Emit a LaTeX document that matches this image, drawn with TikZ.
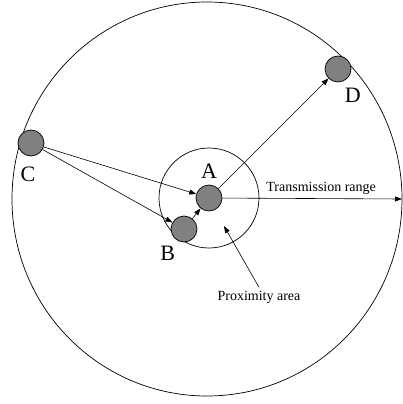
\documentclass[tikz,border=0pt]{standalone}
\usepackage{fontspec}
\setmainfont{Liberation Serif}
\usetikzlibrary{arrows.meta, positioning}

\begin{document}
\begin{tikzpicture}[
        x=1pt, y=-1pt,
        host/.style={draw, circle, fill=gray, minimum size=26pt, inner sep=0pt, line width=0.7pt},
        tag/.style={font=\fontsize{22}{24}\selectfont},
        note/.style={font=\fontsize{14}{16}\selectfont},
        link/.style={-{Triangle[length=7pt, width=5pt]}, line width=0.6pt},
    ]
        \useasboundingbox (0,0) rectangle (403,404);

        % ranges
        \draw[line width=0.7pt] (207,199) ellipse [x radius=195, y radius=197];
        \draw[line width=0.7pt] (209,198) circle [radius=50];

        % hosts
        \node[host] (A) at (209,198) {};
        \node[host] (B) at (184,229) {};
        \node[host] (C) at (31,143)  {};
        \node[host] (D) at (338,69)  {};
        \node[tag, above=3pt of A]                 {A};
        \node[tag, below left=4pt and -4pt of B]   {B};
        \node[tag, below=7pt of C, xshift=-3pt]    {C};
        \node[tag, below right=6pt and -6pt of D]  {D};

        \coordinate (edge) at (402,199);
        \node[note] (prox) at (259,297) {Proximity area};

        \draw[link] (C) -- (A);
        \draw[link] (C) -- (B);
        \draw[link] (B) -- (A);
        \draw[link] (A) -- (D);
        \draw[link] (A) -- (edge) node[note, pos=0.55, above] {Transmission range};
        \draw[link] (prox.north) -- (224,226);
    \end{tikzpicture}
\end{document}
